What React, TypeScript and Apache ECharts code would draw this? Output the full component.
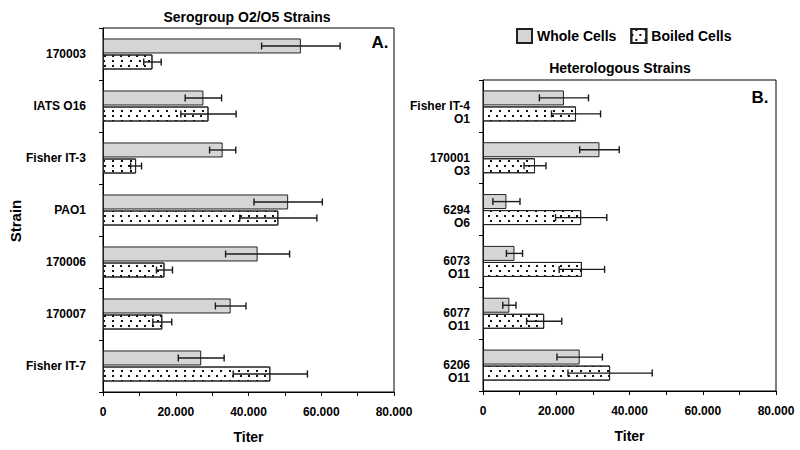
import React, { useEffect, useRef } from "react";
import * as echarts from "echarts";

const categoriesA = ["170003", "IATS O16", "Fisher IT-3", "PAO1", "170006", "170007", "Fisher IT-7"];
const wholeA = [54400, 27600, 32900, 50900, 42500, 35100, 27000];
const wholeErrA = [10800, 5000, 3600, 9400, 8800, 4200, 6300];
const boiledA = [13600, 29000, 9100, 48200, 16900, 16300, 46000];
const boiledErrA = [2400, 7600, 1500, 10600, 2200, 2600, 10200];

const categoriesB = ["Fisher IT-4\nO1", "170001\nO3", "6294\nO6", "6073\nO11", "6077\nO11", "6206\nO11"];
const wholeB = [22100, 31800, 6400, 8600, 7200, 26400];
const wholeErrB = [6700, 5400, 3700, 2200, 1800, 6200];
const boiledB = [25400, 14200, 26800, 27000, 16700, 34700];
const boiledErrB = [6700, 3000, 7000, 6200, 4800, 11500];

const xTicks = { min: 0, max: 80000, interval: 10000 };
const seriesNames = ["Whole Cells", "Boiled Cells"];

const FONT = "'Liberation Sans', Arial, sans-serif";

const wholeStyle = { color: "#d5d5d5", borderColor: "#222", borderWidth: 1 };
const boiledStyle = {
  color: "#ffffff",
  borderColor: "#222",
  borderWidth: 1,
  decal: {
    symbol: "rect",
    symbolSize: 1,
    color: "#111",
    backgroundColor: "#ffffff",
    dashArrayX: [[1.4, 5.6], [0, 3.5, 1.4, 2.1]],
    dashArrayY: [1.4, 3],
    rotation: 0,
  },
};

function fmt(v: number) {
  if (v % 20000 !== 0) return "";
  if (v === 0) return "0";
  return (v / 1000).toFixed(0) + ".000";
}

function errSeries(name: string, values: number[], errs: number[], axisIdx: number, offset: number) {
  return {
    type: "custom",
    name,
    xAxisIndex: axisIdx,
    yAxisIndex: axisIdx,
    z: 10,
    silent: true,
    data: values.map((v, i) => [v, errs[i], i]),
    encode: { x: 0, y: 2 },
    renderItem: (params: any, api: any) => {
      const v = api.value(0);
      const e = api.value(1);
      const c = api.value(2);
      const lo = api.coord([v - e, c]);
      const hi = api.coord([v + e, c]);
      const y = lo[1] + offset;
      const cap = 3.5;
      const st = { stroke: "#1a1a1a", lineWidth: 1.4 };
      return {
        type: "group",
        children: [
          { type: "line", shape: { x1: lo[0], y1: y, x2: hi[0], y2: y }, style: st },
          { type: "line", shape: { x1: lo[0], y1: y - cap, x2: lo[0], y2: y + cap }, style: st },
          { type: "line", shape: { x1: hi[0], y1: y - cap, x2: hi[0], y2: y + cap }, style: st },
        ],
      };
    },
  };
}

function xAxis(gridIndex: number) {
  return {
    type: "value",
    gridIndex,
    ...xTicks,
    name: "Titer",
    nameLocation: "middle",
    nameGap: 38,
    nameTextStyle: { fontFamily: FONT, fontWeight: "bold", fontSize: 14, color: "#000" },
    axisLine: { show: true, lineStyle: { color: "#000", width: 1 } },
    axisTick: { show: true, length: 4, lineStyle: { color: "#000" } },
    splitLine: { show: false },
    axisLabel: {
      formatter: fmt,
      margin: 14,
      fontFamily: FONT,
      fontWeight: "bold",
      fontSize: 12,
      color: "#000",
    },
  };
}

function yAxis(gridIndex: number, data: string[], multi: boolean) {
  return {
    type: "category",
    gridIndex,
    data,
    inverse: true,
    axisLine: { show: true, lineStyle: { color: "#000", width: 1 } },
    axisTick: { show: true, length: 4, lineStyle: { color: "#000" } },
    axisLabel: {
      margin: multi ? 13 : 17,
      fontFamily: FONT,
      fontWeight: "bold",
      fontSize: 12,
      color: "#000",
      align: "right",
      lineHeight: 13,
      formatter: multi ? (v: string) => "\n" + v : (v: string) => v,
    },
  };
}

export default function App() {
  const ref = useRef<HTMLDivElement>(null);
  useEffect(() => {
    if (!ref.current) return;
    const chart = echarts.init(ref.current, undefined, { renderer: "svg" });
    const barCommon = { type: "bar", barWidth: 15, barGap: "7%" };
    chart.setOption({
      animation: false,
      backgroundColor: "#fff",
      grid: [
        { left: 103, top: 28, width: 291, height: 364, show: true, borderColor: "#000", borderWidth: 1, backgroundColor: "transparent" },
        { left: 483, top: 80, width: 293, height: 311, show: true, borderColor: "#000", borderWidth: 1, backgroundColor: "transparent" },
      ],
      legend: {
        data: seriesNames,
        left: 516,
        top: 28,
        padding: 0,
        itemWidth: 15,
        itemHeight: 14,
        itemGap: 14,
        icon: "rect",
        textStyle: { fontFamily: FONT, fontWeight: "bold", fontSize: 14, color: "#000" },
      },
      xAxis: [xAxis(0), xAxis(1)],
      yAxis: [yAxis(0, categoriesA, false), yAxis(1, categoriesB, true)],
      series: [
        { ...barCommon, name: seriesNames[0], xAxisIndex: 0, yAxisIndex: 0, data: wholeA, itemStyle: wholeStyle },
        { ...barCommon, name: seriesNames[1], xAxisIndex: 0, yAxisIndex: 0, data: boiledA, itemStyle: boiledStyle },
        { ...barCommon, name: seriesNames[0], xAxisIndex: 1, yAxisIndex: 1, data: wholeB, itemStyle: wholeStyle },
        { ...barCommon, name: seriesNames[1], xAxisIndex: 1, yAxisIndex: 1, data: boiledB, itemStyle: boiledStyle },
        errSeries("errWA", wholeA, wholeErrA, 0, -8),
        errSeries("errBA", boiledA, boiledErrA, 0, 8),
        errSeries("errWB", wholeB, wholeErrB, 1, -8),
        errSeries("errBB", boiledB, boiledErrB, 1, 8),
      ],
      graphic: [
        { type: "text", x: 247, y: 17, style: { text: "Serogroup O2/O5 Strains", font: `bold 14px ${FONT}`, fill: "#000", textAlign: "center", textVerticalAlign: "middle" } },
        { type: "text", x: 620, y: 68, style: { text: "Heterologous Strains", font: `bold 14px ${FONT}`, fill: "#000", textAlign: "center", textVerticalAlign: "middle" } },
        { type: "text", x: 380, y: 42, style: { text: "A.", font: `bold 17px ${FONT}`, fill: "#000", textAlign: "center", textVerticalAlign: "middle" } },
        { type: "text", x: 760, y: 97, style: { text: "B.", font: `bold 17px ${FONT}`, fill: "#000", textAlign: "center", textVerticalAlign: "middle" } },
        { type: "text", x: 15, y: 221, rotation: Math.PI / 2, style: { text: "Strain", font: `bold 15px ${FONT}`, fill: "#000", textAlign: "center", textVerticalAlign: "middle" } },
      ],
    });
    return () => chart.dispose();
  }, []);
  return <div ref={ref} style={{ position: "fixed", left: 0, top: 0, width: 800, height: 450 }} />;
}
